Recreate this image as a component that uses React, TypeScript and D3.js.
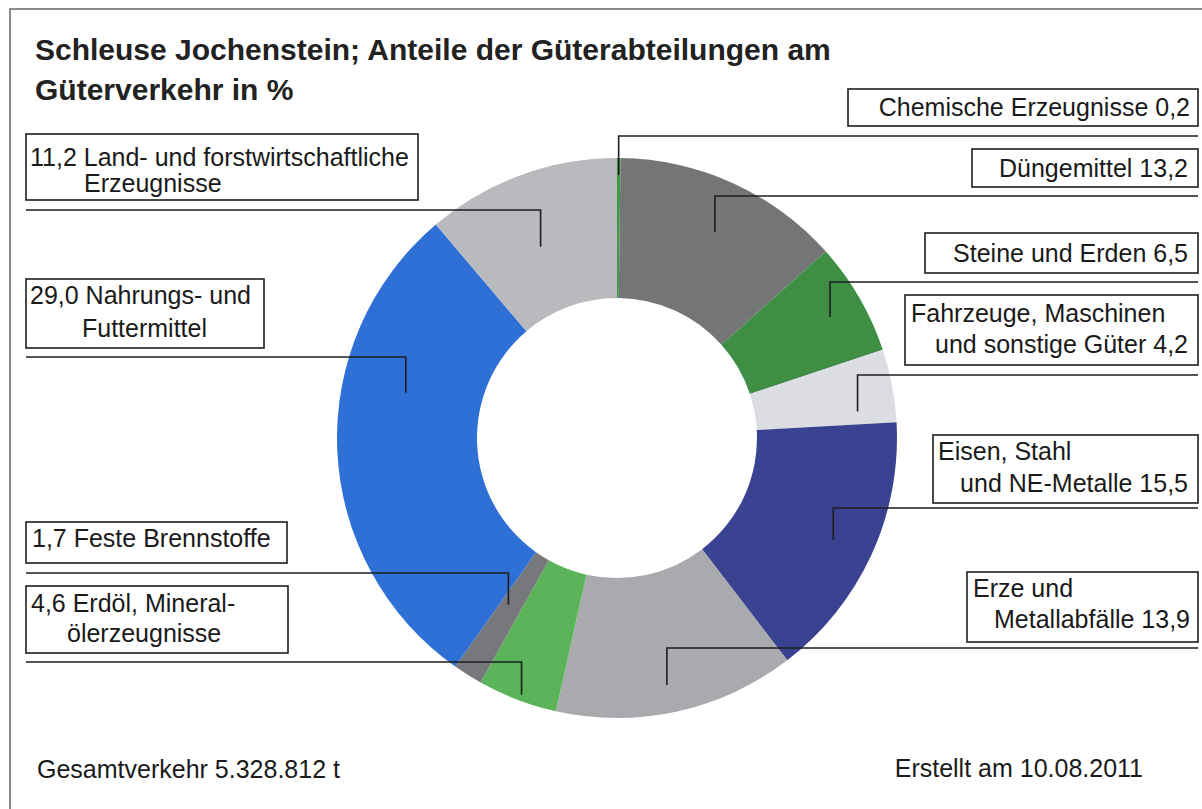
import * as d3 from "d3";

// Güterabteilungen, clockwise from 12 o'clock
const categories = [
  "Chemische Erzeugnisse",
  "Düngemittel",
  "Steine und Erden",
  "Fahrzeuge, Maschinen und sonstige Güter",
  "Eisen, Stahl und NE-Metalle",
  "Erze und Metallabfälle",
  "Erdöl, Mineralölerzeugnisse",
  "Feste Brennstoffe",
  "Nahrungs- und Futtermittel",
  "Land- und forstwirtschaftliche Erzeugnisse",
];
const shares = [0.2, 13.2, 6.5, 4.2, 15.5, 13.9, 4.6, 1.7, 29.0, 11.2];
const colors = [
  "#3f9a46",
  "#737577",
  "#3e8f44",
  "#dcdde2",
  "#3a4391",
  "#a9aaad",
  "#5bb459",
  "#77787b",
  "#2f70d7",
  "#b9babd",
];
// label text, {v} = value
const labelText = [
  ["Chemische Erzeugnisse {v}"],
  ["Düngemittel {v}"],
  ["Steine und Erden {v}"],
  ["Fahrzeuge, Maschinen", "und sonstige Güter {v}"],
  ["Eisen, Stahl", "und NE-Metalle {v}"],
  ["Erze und", "Metallabfälle {v}"],
  ["{v} Erdöl, Mineral-", "ölerzeugnisse"],
  ["{v} Feste Brennstoffe"],
  ["{v} Nahrungs- und", "Futtermittel"],
  ["{v} Land- und forstwirtschaftliche", "Erzeugnisse"],
];
const title = ["Schleuse Jochenstein; Anteile der Güterabteilungen am", "Güterverkehr in %"];
const footerLeft = "Gesamtverkehr 5.328.812 t";
const footerRight = "Erstellt am 10.08.2011";

const W = 1202;
const H = 809;
const cx = 617;
const cy = 438;
const rOuter = 280;
const rInner = 140;
const font = "'Liberation Sans', Arial, Helvetica, sans-serif";

// label box layout (annotation placement)
type LineLayout = { x: number; y: number; anchor: "start" | "end" };
type LabelLayout = {
  box: [number, number, number, number]; // x0, y0, x1, y1
  lines: LineLayout[];
  lineY: number;
  edgeX: number;
  t: number; // position within slice
  r: number; // radius of leader end
};
const layout: LabelLayout[] = [
  { box: [848, 89, 1198, 126], lines: [{ x: 1190, y: 116, anchor: "end" }], lineY: 136, edgeX: 1198, t: 0.5, r: 263 },
  { box: [972, 149, 1198, 187], lines: [{ x: 1188, y: 177, anchor: "end" }], lineY: 196, edgeX: 1198, t: 0.52, r: 228 },
  { box: [925, 233, 1198, 273], lines: [{ x: 1188, y: 262, anchor: "end" }], lineY: 282, edgeX: 1198, t: 0.52, r: 245 },
  {
    box: [905, 295, 1198, 365],
    lines: [
      { x: 911, y: 322, anchor: "start" },
      { x: 1188, y: 353, anchor: "end" },
    ],
    lineY: 375, edgeX: 1198, t: 0.8, r: 242,
  },
  {
    box: [933, 435, 1198, 503],
    lines: [
      { x: 938, y: 460, anchor: "start" },
      { x: 1188, y: 492, anchor: "end" },
    ],
    lineY: 508, edgeX: 1198, t: 0.51, r: 239,
  },
  {
    box: [967, 572, 1198, 642],
    lines: [
      { x: 973, y: 597, anchor: "start" },
      { x: 1190, y: 628, anchor: "end" },
    ],
    lineY: 648, edgeX: 1198, t: 0.52, r: 252,
  },
  {
    box: [26, 586, 288, 653],
    lines: [
      { x: 31, y: 612, anchor: "start" },
      { x: 67, y: 642, anchor: "start" },
    ],
    lineY: 662, edgeX: 26, t: 0.47, r: 274,
  },
  { box: [26, 522, 287, 563], lines: [{ x: 32, y: 547, anchor: "start" }], lineY: 573, edgeX: 26, t: 0.64, r: 199 },
  {
    box: [26, 279, 264, 348],
    lines: [
      { x: 30, y: 304, anchor: "start" },
      { x: 82, y: 337, anchor: "start" },
    ],
    lineY: 357, edgeX: 26, t: 0.64, r: 216,
  },
  {
    box: [26, 134, 418, 200],
    lines: [
      { x: 30, y: 166, anchor: "start" },
      { x: 84, y: 192, anchor: "start" },
    ],
    lineY: 210, edgeX: 26, t: 0.46, r: 206,
  },
];

const fmt = (v: number) => v.toFixed(1).replace(".", ",");

const App = () => {
  const pie = d3
    .pie<number>()
    .sort(null)
    .value((d) => d);
  const arcs = pie(shares);
  const arc = d3.arc<d3.PieArcDatum<number>>().innerRadius(rInner).outerRadius(rOuter);

  return (
    <svg
      width={W}
      height={H}
      viewBox={`0 0 ${W} ${H}`}
      style={{ position: "absolute", left: 0, top: 0, background: "#fff" }}
      fontFamily={font}
    >
      <rect x={10} y={9} width={W + 20} height={H + 20} fill="#fff" stroke="#666" strokeWidth={1.5} />

      {title.map((t, i) => (
        <text key={i} x={35} y={60 + i * 40} fontSize={30} fontWeight="bold" fill="#222">
          {t}
        </text>
      ))}

      <g transform={`translate(${cx},${cy})`}>
        {arcs.map((a, i) => (
          <path key={categories[i]} d={arc(a) || ""} fill={colors[i]} />
        ))}
      </g>

      {arcs.map((a, i) => {
        const L = layout[i];
        const ang = a.startAngle + L.t * (a.endAngle - a.startAngle);
        const ax = cx + L.r * Math.sin(ang);
        const ay = cy - L.r * Math.cos(ang);
        const [x0, y0, x1, y1] = L.box;
        return (
          <g key={"lbl" + i}>
            <path
              d={`M${L.edgeX},${L.lineY}H${ax}V${ay}`}
              fill="none"
              stroke="#1e1e1e"
              strokeWidth={1.6}
            />
            <rect x={x0} y={y0} width={x1 - x0} height={y1 - y0} fill="#fff" stroke="#1e1e1e" strokeWidth={1.6} />
            {labelText[i].map((s, j) => (
              <text
                key={j}
                x={L.lines[j].x}
                y={L.lines[j].y}
                textAnchor={L.lines[j].anchor}
                fontSize={25}
                fill="#1a1a1a"
              >
                {s.replace("{v}", fmt(shares[i]))}
              </text>
            ))}
          </g>
        );
      })}

      <text x={37} y={778} fontSize={25} fill="#1a1a1a">
        {footerLeft}
      </text>
      <text x={1143} y={777} fontSize={25} textAnchor="end" fill="#1a1a1a">
        {footerRight}
      </text>
    </svg>
  );
};

export default App;
